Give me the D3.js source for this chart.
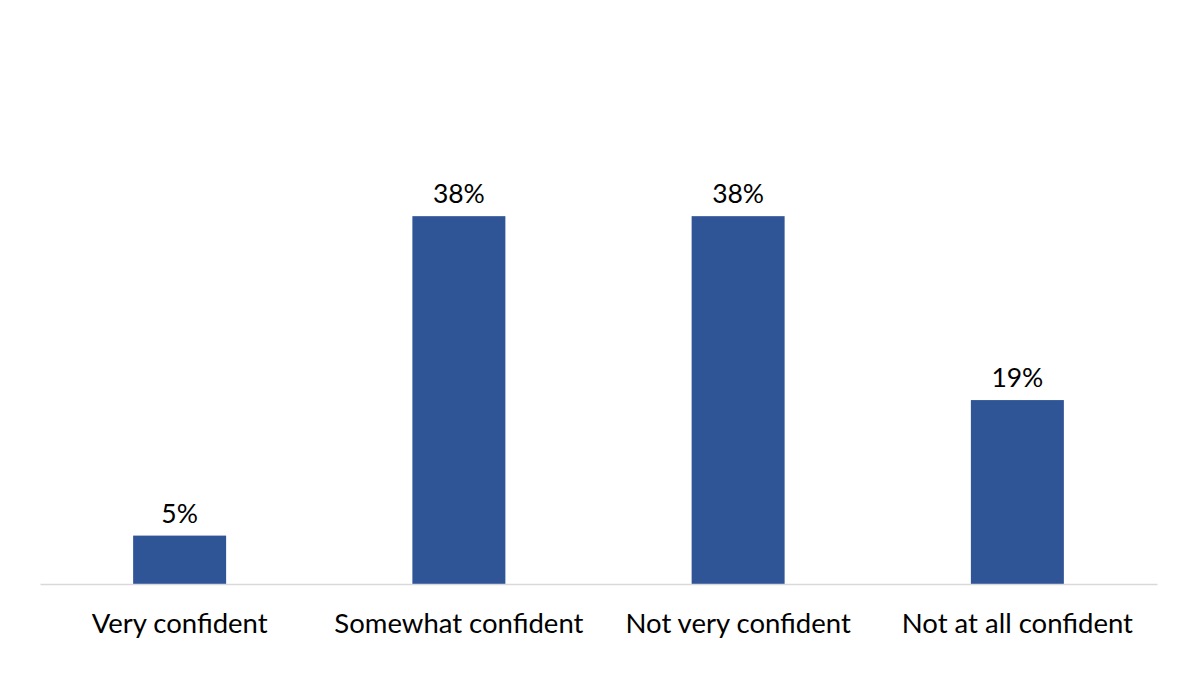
<!DOCTYPE html>
<html>
<head>
<meta charset="utf-8">
<script src="https://cdn.jsdelivr.net/npm/d3@7"></script>
<style>
  html, body { margin: 0; padding: 0; background: #ffffff; }
  svg { display: block; }
  text { font-family: Lato, "Open Sans", "Noto Sans", sans-serif; fill: #000; }
</style>
</head>
<body>
<svg id="chart" width="1200" height="675"></svg>
<script>
const categories = ["Very confident", "Somewhat confident", "Not very confident", "Not at all confident"];
const values = [5, 38, 38, 19];
const valueLabels = ["5%", "38%", "38%", "19%"];

const W = 1200, H = 675;
const margin = { left: 40, right: 43, top: 100, bottom: 91 };
const svg = d3.select("#chart");

const x = d3.scaleBand()
  .domain(categories)
  .range([margin.left, W - margin.right])
  .paddingInner(0.667)
  .paddingOuter(0.3335);

const y = d3.scaleLinear()
  .domain([0, 50])
  .range([H - margin.bottom, margin.top]);

svg.append("g")
  .selectAll("rect")
  .data(values)
  .join("rect")
  .attr("x", (d, i) => x(categories[i]))
  .attr("y", d => y(d))
  .attr("width", x.bandwidth())
  .attr("height", d => y(0) - y(d))
  .attr("fill", "#2F5597");

const xAxis = d3.axisBottom(x).tickSize(0).tickPadding(29);
const gx = svg.append("g")
  .attr("transform", `translate(0,${y(0)})`)
  .call(xAxis);
gx.select(".domain").attr("stroke", "#D9D9D9").attr("stroke-width", 1.3);
gx.selectAll("text")
  .style("font-size", "27.5px")
  .attr("fill", "#000")
  .attr("font-family", "Lato, 'Open Sans', sans-serif");

svg.append("g")
  .selectAll("text")
  .data(values)
  .join("text")
  .attr("x", (d, i) => x(categories[i]) + x.bandwidth() / 2)
  .attr("y", d => y(d) - 13)
  .attr("text-anchor", "middle")
  .style("font-size", "26.5px")
  .text((d, i) => valueLabels[i]);
</script>
</body>
</html>
